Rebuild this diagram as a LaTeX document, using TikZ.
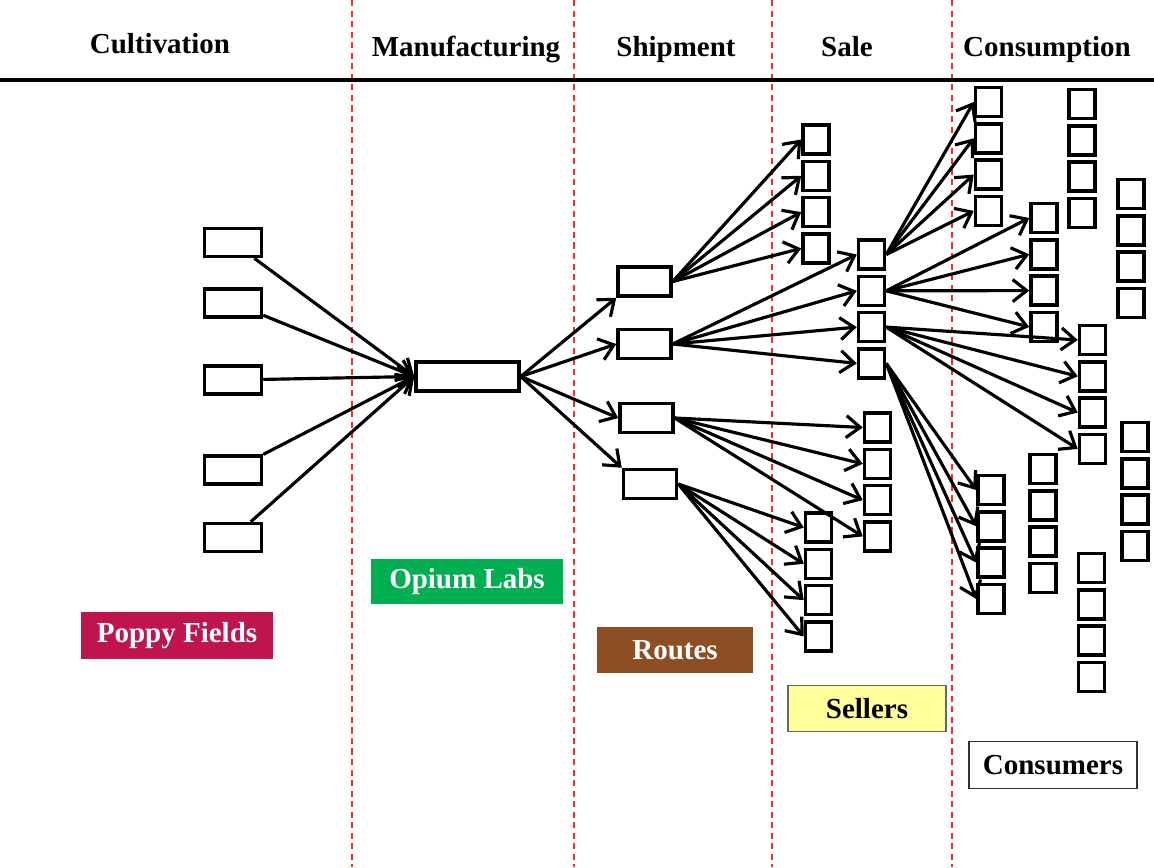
\documentclass[tikz,border=0pt]{standalone}
\usepackage{fontspec}
\setmainfont{Liberation Serif}
\usetikzlibrary{arrows.meta}
\definecolor{poppy}{RGB}{192,20,80}
\definecolor{labgreen}{RGB}{0,176,80}
\definecolor{routebrown}{RGB}{140,78,34}
\definecolor{sellyellow}{RGB}{255,255,153}
\begin{document}
\begin{tikzpicture}[x=0.02cm,y=-0.02cm]
\tikzstyle{cell}=[draw,line width=2pt,inner sep=0pt,minimum width=0.52cm,minimum height=0.58cm]
\tikzstyle{link}=[->,line width=1.8pt,>={Straight Barb[length=2.8mm,width=4.4mm]}]
\tikzstyle{stage}=[anchor=base,font=\bfseries\fontsize{16.5}{20}\selectfont]
\tikzstyle{tag}=[inner sep=0pt,font=\bfseries\fontsize{16.5}{20}\selectfont,minimum height=0.93cm]

\useasboundingbox (0,0) rectangle (1154,867);

\foreach \x in {352,574,772,952}
  \draw[red!85,line width=0.75pt,dash pattern=on 3.5pt off 2.5pt] (\x,0) -- (\x,867);
\draw[line width=1.9pt] (0,80) -- (1154,80);

\node[stage] (h1) at (160,53) {Cultivation};
\node[stage] (h2) at (466,56) {Manufacturing};
\node[stage] (h3) at (676,56) {Shipment};
\node[stage] (h4) at (847,56) {Sale};
\node[stage] (h5) at (1047,56) {Consumption};

\foreach \y [count=\i] in {242.5,303,380,470,537.5}
  \node[cell,minimum width=1.14cm,minimum height=0.56cm] (field\i) at (233,\y) {};

\node[cell,minimum width=2.06cm] (lab) at (467.5,376.5) {};

\node[cell,minimum width=1.06cm] (route1) at (644.5,281.5) {};
\node[cell,minimum width=1.06cm] (route2) at (644.5,344) {};
\node[cell,minimum width=1.06cm] (route3) at (646.5,418) {};
\node[cell,minimum width=1.06cm] (route4) at (650,484) {};

\foreach \x/\y/\n in {816/139.5/sa,871.5/254.5/sb,877.5/427.5/sc,818.5/527.5/sd,
  988.5/102/ca,1044/218/cb,1082/104/cc,1131/194/cd,1092.5/340/ce,
  991/490/cf,1043/469/cg,1091.5/568/ch,1135/437/ci}
  \foreach \i in {1,...,4}
    \node[cell] (\n\i) at (\x,{\y+36.3*(\i-1)}) {};

\foreach \i in {1,...,5}
  \draw[link] (field\i) -- (lab.west);
\draw[link] (lab.east) -- (route1.south west);
\draw[link] (lab.east) -- (route2.west);
\draw[link] (lab.east) -- (route3.west);
\draw[link] (lab.east) -- (route4.north west);
\foreach \i in {1,...,4}
{
  \draw[link] (route1.east) -- (sa\i.west);
  \draw[link] (route2.east) -- (sb\i.west);
  \draw[link] (route3.east) -- (sc\i.west);
  \draw[link] (route4.east) -- (sd\i.west);
  \draw[link] (sb1.east) -- (ca\i.west);
  \draw[link] (sb2.east) -- (cb\i.west);
  \draw[link] (sb3.east) -- (ce\i.west);
  \draw[link] (sb4.east) -- (cf\i.west);
}

\node[tag,fill=poppy,text=white,minimum width=3.84cm] (fields) at (177,635.5) {Poppy Fields};
\node[tag,fill=labgreen,text=white,minimum width=3.84cm,minimum height=0.9cm] (labs) at (467,581.5) {Opium Labs};
\node[tag,fill=routebrown,text=white,minimum width=3.12cm] (routes) at (675,650) {Routes};
\node[tag,fill=sellyellow,draw=black!60,line width=0.8pt,minimum width=3.16cm] (sellers) at (867,708.5) {Sellers};
\node[tag,fill=white,draw=black!80,line width=0.8pt,minimum width=3.36cm] (consumers) at (1053,765) {Consumers};

\end{tikzpicture}
\end{document}
